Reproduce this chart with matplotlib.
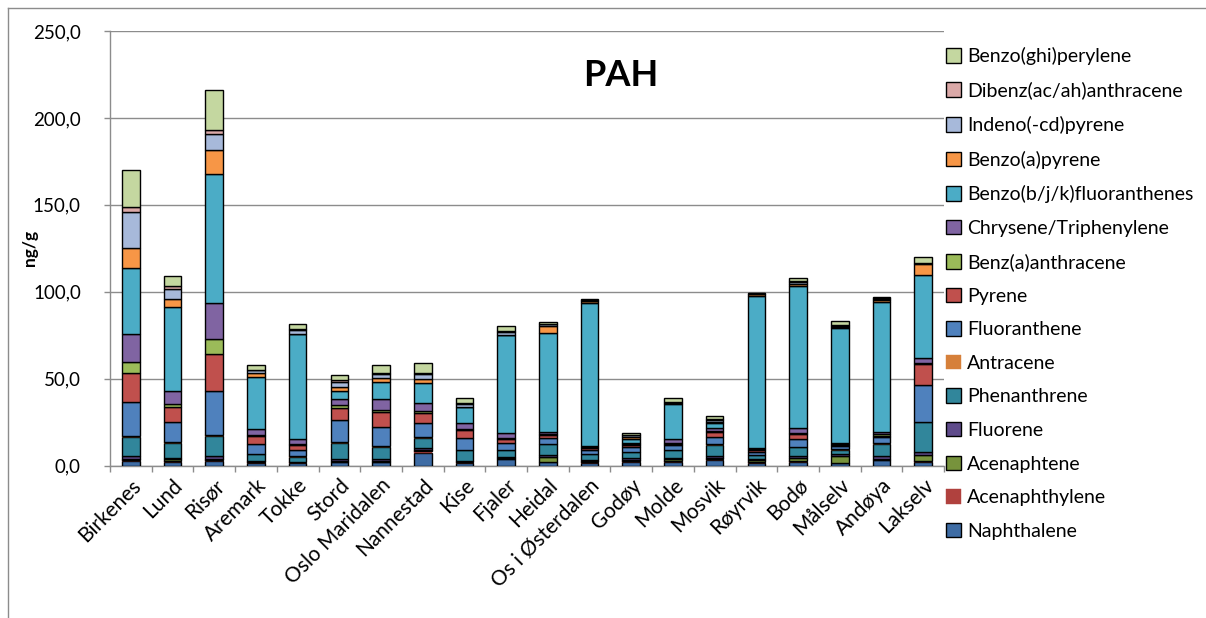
import matplotlib
matplotlib.use("Agg")
import matplotlib.pyplot as plt
from matplotlib.lines import Line2D
from matplotlib.transforms import ScaledTranslation
import numpy as np

plt.rcParams['font.family'] = ['Lato', 'DejaVu Sans']

stations = ["Birkenes", "Lund", "Risør", "Aremark", "Tokke", "Stord", "Oslo Maridalen",
            "Nannestad", "Kise", "Fjaler", "Heidal", "Os i Østerdalen", "Godøy", "Molde",
            "Mosvik", "Røyrvik", "Bodø", "Målselv", "Andøya", "Lakselv"]

compounds = ["Naphthalene", "Acenaphthylene", "Acenaphtene", "Fluorene", "Phenanthrene",
             "Antracene", "Fluoranthene", "Pyrene", "Benz(a)anthracene", "Chrysene/Triphenylene",
             "Benzo(b/j/k)fluoranthenes", "Benzo(a)pyrene", "Indeno(-cd)pyrene",
             "Dibenz(ac/ah)anthracene", "Benzo(ghi)perylene"]

naphthalene       = [2.6, 2.2, 2.6, 1.5, 1.6, 1.8, 1.8, 7.4, 1.6, 3.5, 1.9, 1.5, 1.9, 1.9, 2.9, 1.3, 1.9, 1.3, 2.9, 2.0]
acenaphthylene    = [0.8, 0.5, 0.8, 0.3, 0.2, 0.5, 0.5, 0.8, 0.3, 0.4, 0.3, 0.5, 0.6, 0.8, 0.6, 0.5, 0.5, 0.4, 0.5, 0.5]
acenaphtene       = [0.6, 0.8, 0.6, 0.3, 0.2, 0.3, 0.5, 0.8, 0.3, 0.4, 2.5, 0.6, 0.8, 0.8, 0.8, 1.3, 1.7, 3.5, 0.6, 3.7]
fluorene          = [1.5, 1.0, 1.2, 0.5, 0.3, 1.0, 1.0, 1.0, 0.5, 0.5, 1.5, 0.8, 1.0, 1.0, 1.0, 0.8, 1.2, 1.5, 1.3, 1.3]
phenanthrene      = [11.0, 8.6, 11.5, 4.0, 2.8, 9.5, 7.0, 6.1, 6.0, 4.0, 6.0, 3.0, 3.2, 4.4, 6.5, 2.2, 5.2, 2.5, 7.3, 17.3]
antracene         = [0.4, 0.3, 0.6, 0.2, 0.1, 0.5, 0.3, 0.3, 0.2, 0.2, 0.2, 0.3, 0.2, 0.2, 0.3, 0.2, 0.3, 0.3, 0.3, 0.3]
fluoranthene      = [19.5, 11.5, 25.4, 5.4, 3.9, 12.5, 11.0, 8.0, 7.0, 4.0, 3.5, 2.0, 3.0, 2.5, 4.5, 1.5, 4.4, 1.5, 3.3, 21.3]
pyrene            = [17.0, 8.6, 21.2, 4.7, 2.9, 7.2, 8.5, 6.0, 4.5, 2.5, 1.9, 1.3, 1.0, 1.0, 2.6, 1.0, 2.9, 0.8, 1.0, 12.1]
benz_a_anthracene = [6.0, 1.9, 8.6, 0.5, 0.3, 1.5, 1.2, 0.8, 0.5, 0.5, 0.5, 0.6, 0.4, 0.5, 0.8, 0.6, 0.5, 0.6, 0.8, 0.5]
chrysene          = [16.5, 7.7, 21.1, 3.8, 2.9, 3.5, 6.2, 5.0, 3.5, 2.8, 0.8, 0.8, 0.6, 1.9, 1.5, 0.8, 2.9, 0.8, 1.2, 2.9]
benzo_bjk_fluor   = [37.5, 48.0, 74.2, 30.0, 60.4, 4.5, 10.0, 11.5, 9.0, 56.0, 57.0, 82.2, 2.6, 20.5, 2.8, 87.4, 82.0, 65.7, 75.0, 47.7]
benzo_a_pyrene    = [12.0, 4.8, 14.0, 2.0, 0.3, 2.5, 2.3, 2.3, 0.3, 0.5, 4.4, 0.8, 1.2, 0.5, 0.8, 0.8, 0.8, 0.8, 0.8, 6.3]
indeno_pyrene     = [20.5, 5.8, 9.0, 1.5, 2.3, 2.6, 2.5, 2.5, 1.9, 1.8, 0.7, 0.5, 0.8, 0.5, 1.0, 0.4, 1.5, 0.8, 0.8, 0.6]
dibenz_anthracene = [3.0, 1.3, 2.5, 0.5, 0.3, 1.5, 0.5, 0.5, 0.3, 0.3, 0.4, 0.3, 0.5, 0.3, 0.6, 0.2, 0.3, 0.3, 0.4, 0.3]
benzo_ghi_perylene= [21.0, 6.3, 22.5, 2.5, 2.8, 2.9, 4.8, 6.2, 3.2, 2.8, 0.8, 0.8, 1.0, 1.9, 1.8, 0.5, 2.0, 2.3, 0.8, 3.2]

series = [naphthalene, acenaphthylene, acenaphtene, fluorene, phenanthrene, antracene,
          fluoranthene, pyrene, benz_a_anthracene, chrysene, benzo_bjk_fluor, benzo_a_pyrene,
          indeno_pyrene, dibenz_anthracene, benzo_ghi_perylene]

colors = ["#3E6CA4", "#B0413E", "#77933C", "#5F4B8B", "#31869B", "#D6803A",
          "#4F81BD", "#C0504D", "#9BBB59", "#8064A2", "#4BACC6", "#F79646",
          "#A7B9DA", "#DBA9A8", "#C4D7A0"]
has_edge = [True, False, True, True, True, False, True, True, True, True, True, True, True, True, True]

yticks = [0, 50, 100, 150, 200, 250]
ytick_labels = ["0,0", "50,0", "100,0", "150,0", "200,0", "250,0"]

W, H = 1206, 618
fig = plt.figure(figsize=(W / 100, H / 100), dpi=100)
ax = fig.add_axes([110 / W, 1 - 465.5 / H, (944 - 110) / W, (465.5 - 31) / H])

x = np.arange(len(stations))
bottom = np.zeros(len(stations))
handles = []
for vals, col, edge, name in zip(series, colors, has_edge, compounds):
    v = np.array(vals)
    bars = ax.bar(x, v, bottom=bottom, width=0.42, color=col,
                  edgecolor="black" if edge else col, linewidth=1.0 if edge else 0.3,
                  label=name, zorder=3)
    handles.append(bars)
    bottom += v

ax.set_xlim(-0.5, len(stations) - 0.5)
ax.set_ylim(0, 250)
ax.set_yticks(yticks)
ax.set_yticklabels(ytick_labels, fontsize=13.5)
ax.yaxis.grid(True, color="#8C8C8C", linewidth=1.0, zorder=0)
ax.set_axisbelow(True)

ax.set_xticks(x)
ax.set_xticklabels(stations, rotation=45, ha="right", va="top", rotation_mode="anchor", fontsize=15)
shift = ScaledTranslation(10 / 100, 0, fig.dpi_scale_trans)
for lbl in ax.get_xticklabels():
    lbl.set_transform(lbl.get_transform() + shift)
ax.tick_params(axis="x", length=0, pad=7)
ax.set_xticks(np.arange(-0.5, len(stations), 1.0), minor=True)
ax.tick_params(axis="x", which="minor", length=4, color="#8C8C8C", width=1.0)
ax.tick_params(axis="y", length=4, color="#8C8C8C", width=1.0, pad=17)

for s in ["top", "right"]:
    ax.spines[s].set_visible(False)
for s in ["left", "bottom"]:
    ax.spines[s].set_color("#8C8C8C")
    ax.spines[s].set_linewidth(1.0)

ax.set_ylabel("ng/g", fontsize=12.5, fontweight="bold", labelpad=-4)
ax.text(11.75, 224.5, "PAH", fontsize=26, fontweight="bold", ha="center", va="center")

leg = fig.legend(handles=handles[::-1], labels=compounds[::-1], loc="upper left",
                 bbox_to_anchor=(946 / W, 1 - 47 / H), frameon=False, fontsize=14,
                 labelspacing=0.85, handlelength=0.77, handleheight=0.77,
                 handletextpad=0.3, borderpad=0, borderaxespad=0)

fig.add_artist(Line2D([8 / W, 8 / W], [0, 1 - 8 / H], color="#8C8C8C", linewidth=1.0))
fig.add_artist(Line2D([8 / W, 1], [1 - 8 / H, 1 - 8 / H], color="#8C8C8C", linewidth=1.0))

fig.savefig("out.png", dpi=100)
